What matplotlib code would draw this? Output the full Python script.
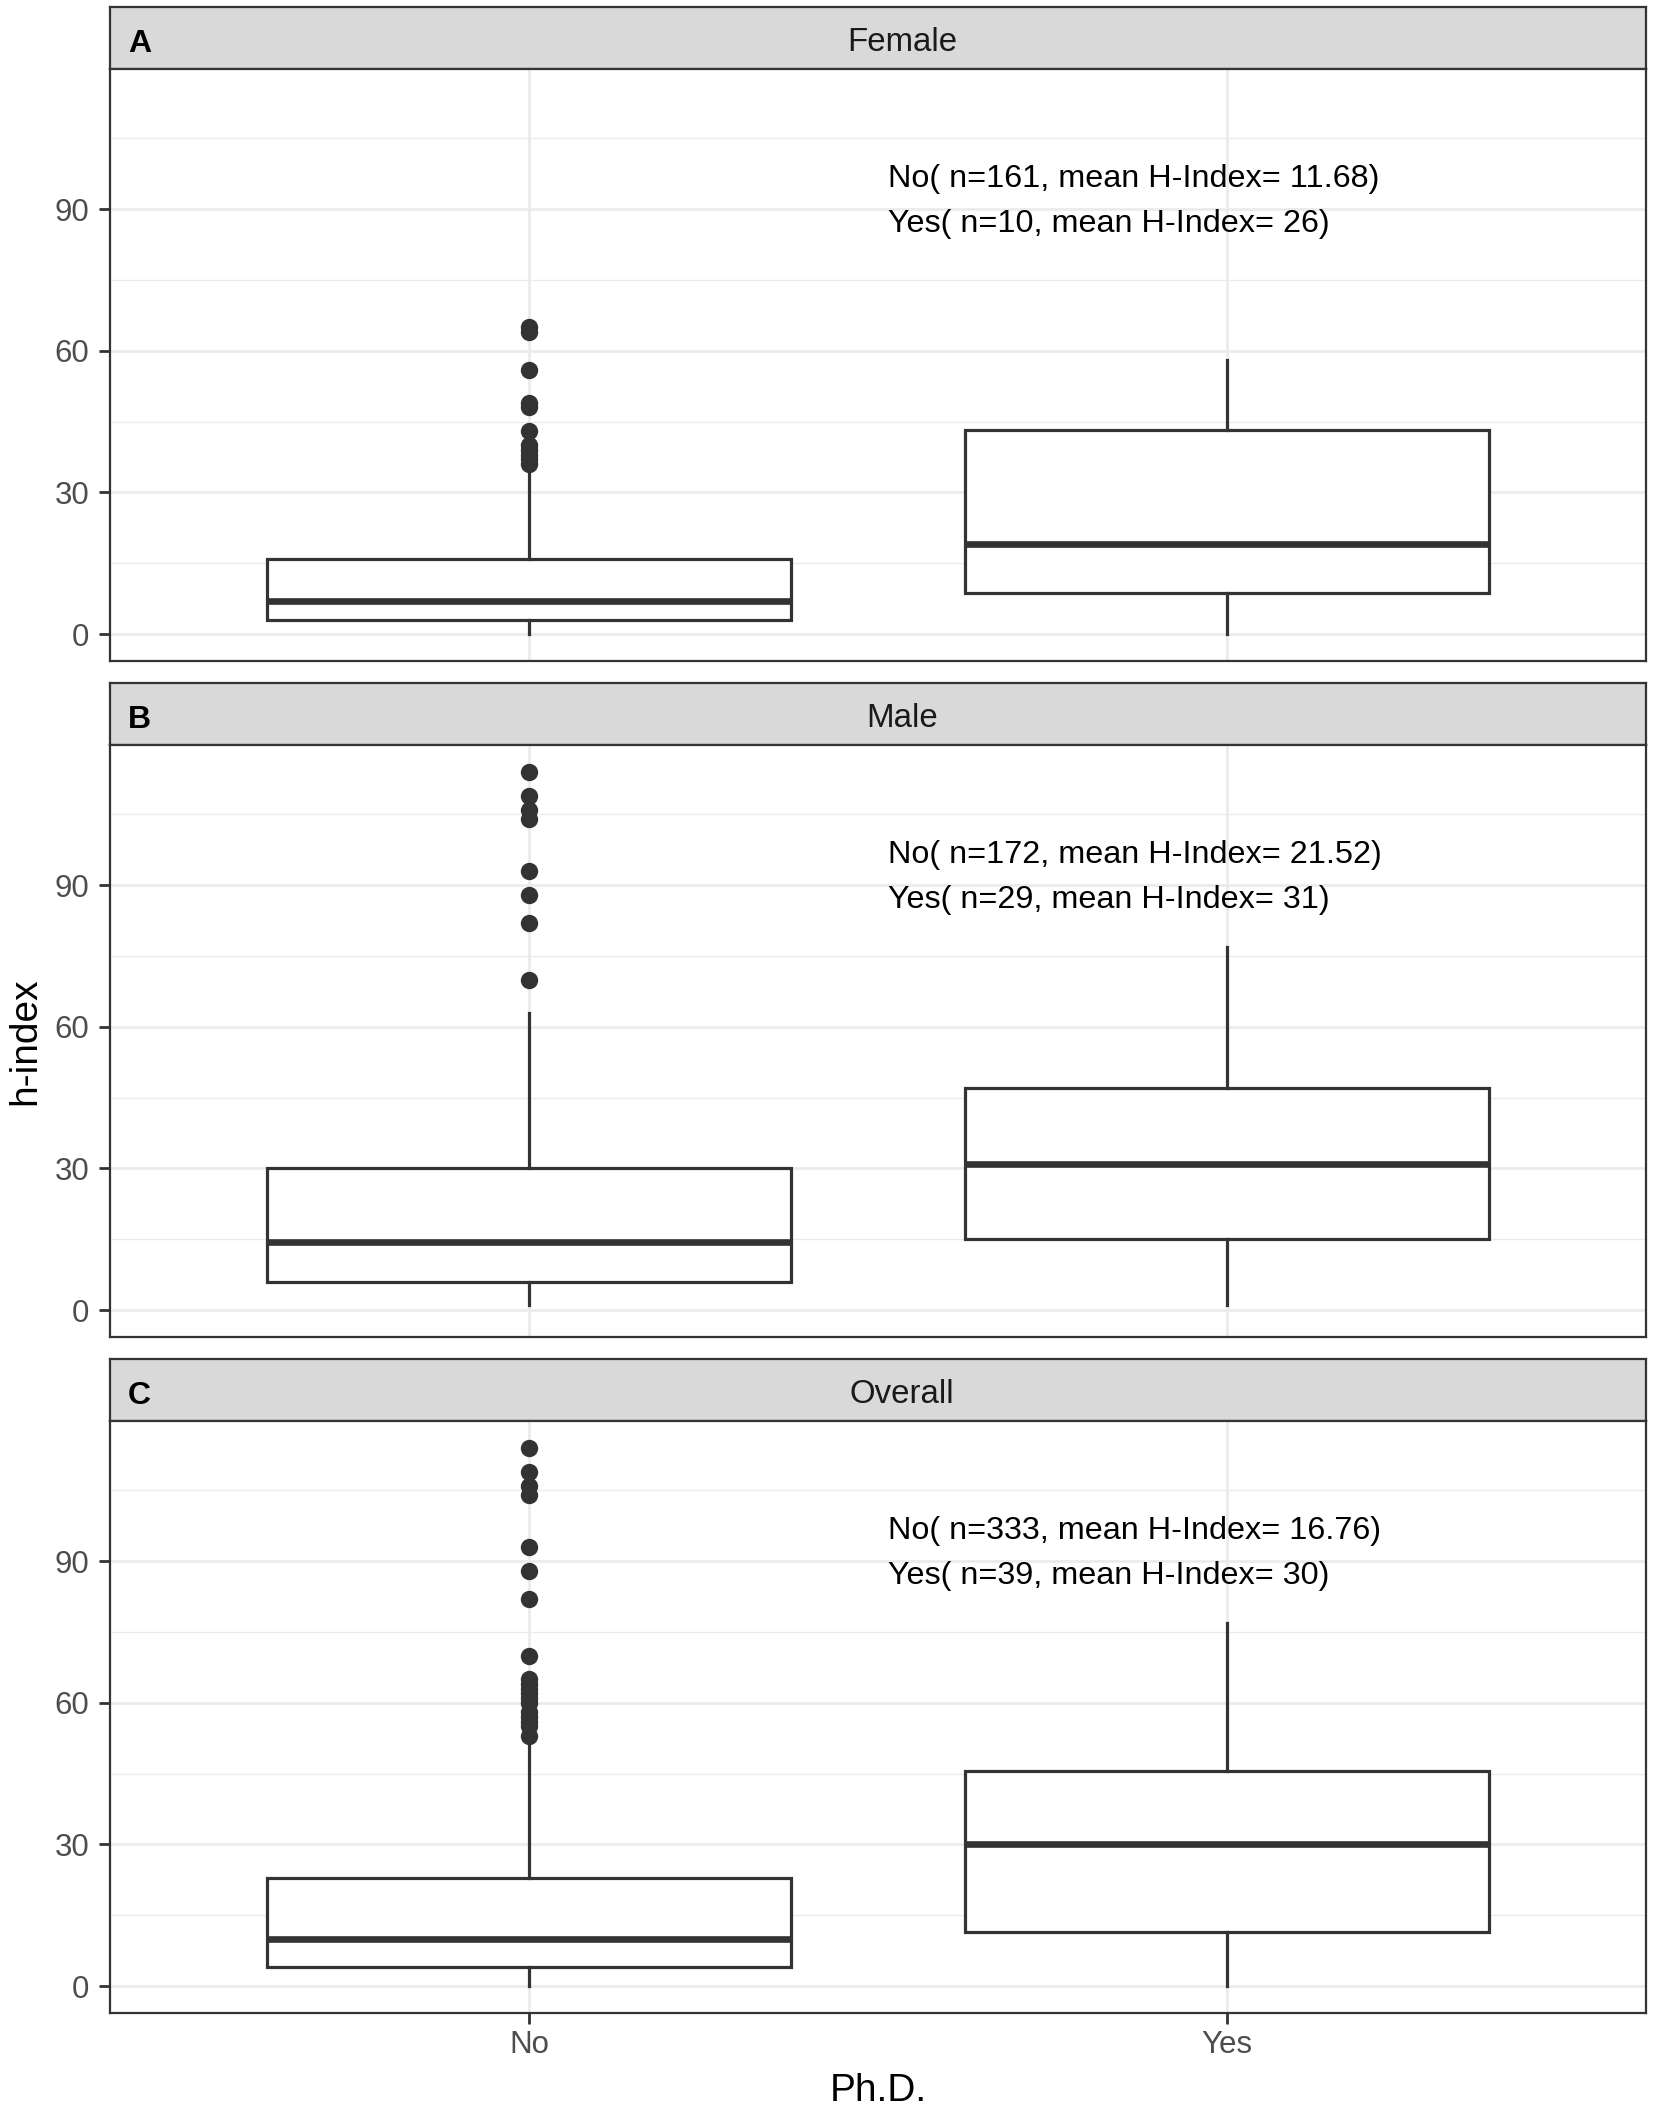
import matplotlib
matplotlib.use("Agg")
import matplotlib.pyplot as plt

plt.rcParams['font.family'] = ['Liberation Sans', 'DejaVu Sans']

# --- data ---
panels = ['Female', 'Male', 'Overall']
tags = ['A', 'B', 'C']
categories = ['No', 'Yes']

# box stats per panel: [No, Yes] -> (whislo, q1, med, q3, whishi)
female_stats = [(0, 3, 7, 16, 35), (0, 8.75, 19, 43.25, 58)]
male_stats = [(1, 6, 14.5, 30, 63), (1, 15, 31, 47, 77)]
overall_stats = [(0, 4, 10, 23, 51), (0, 11.5, 30, 45.5, 77)]

female_out = [[36, 37, 38, 39, 40, 43, 48, 49, 56, 64, 65], []]
male_out = [[70, 82, 88, 93, 104, 106, 109, 114], []]
overall_out = [[53, 55, 56, 57, 58, 60, 61, 62, 63, 64, 65, 70, 82, 88, 93, 104, 106, 109, 114], []]

female_text = ['No( n=161, mean H-Index= 11.68)', 'Yes( n=10, mean H-Index= 26)']
male_text = ['No( n=172, mean H-Index= 21.52)', 'Yes( n=29, mean H-Index= 31)']
overall_text = ['No( n=333, mean H-Index= 16.76)', 'Yes( n=39, mean H-Index= 30)']

all_stats = [female_stats, male_stats, overall_stats]
all_out = [female_out, male_out, overall_out]
all_text = [female_text, male_text, overall_text]

yticks = [0, 30, 60, 90]
yminor = [15, 45, 75, 105]

# --- layout in pixels ---
W, H = 1654, 2109
left, width = 110, 1536
strip_tops = [7, 683, 1359]
strip_h = 62
panel_h = 592

dark = '#333333'
fig = plt.figure(figsize=(W / 100, H / 100), dpi=100)

for i in range(3):
    st = strip_tops[i]
    pt = st + strip_h

    # strip
    sax = fig.add_axes([left / W, 1 - pt / H, width / W, strip_h / H])
    sax.set_facecolor('#D9D9D9')
    sax.set_xticks([])
    sax.set_yticks([])
    for sp in sax.spines.values():
        sp.set_color(dark)
        sp.set_linewidth(1.6)
    fig.text(902 / W, 1 - (st + 44) / H, panels[i],
             ha='center', va='baseline', fontsize=23.8, color='#1A1A1A')
    fig.text(128 / W, 1 - (st + 45) / H, tags[i], ha='left', va='baseline',
             fontsize=23, fontweight='bold', color='black')

    # panel
    ax = fig.add_axes([left / W, 1 - (pt + panel_h) / H, width / W, panel_h / H])
    stats = []
    for j in range(2):
        lo, q1, med, q3, hi = all_stats[i][j]
        stats.append(dict(whislo=lo, q1=q1, med=med, q3=q3, whishi=hi,
                          fliers=all_out[i][j], label=categories[j]))
    ax.bxp(stats, positions=[1, 2], widths=0.75, showcaps=False,
           patch_artist=True,
           boxprops=dict(facecolor='white', edgecolor=dark, linewidth=2.3),
           medianprops=dict(color=dark, linewidth=4.8, solid_capstyle='butt'),
           whiskerprops=dict(color=dark, linewidth=2.3),
           flierprops=dict(marker='o', markerfacecolor=dark, markeredgecolor=dark,
                           markersize=11.5, linestyle='none'))

    ax.set_xlim(0.4, 2.6)
    ax.set_ylim(-5.7, 119.7)
    ax.set_yticks(yticks)
    ax.set_yticks(yminor, minor=True)
    ax.set_xticks([1, 2])
    ax.set_axisbelow(True)
    ax.grid(True, which='major', color='#EBEBEB', linewidth=2.0)
    ax.grid(True, which='minor', axis='y', color='#EBEBEB', linewidth=1.0)
    for sp in ax.spines.values():
        sp.set_color(dark)
        sp.set_linewidth(1.6)
    ax.tick_params(axis='y', which='major', length=8, width=2, color=dark,
                   labelsize=22.5, labelcolor='#4D4D4D', pad=7)
    ax.tick_params(axis='y', which='minor', length=0)
    if i < 2:
        ax.tick_params(axis='x', length=0, labelbottom=False)
    else:
        ax.set_xticklabels(categories)
        ax.tick_params(axis='x', length=8, width=2, color=dark,
                       labelsize=22.5, labelcolor='#4D4D4D', pad=4)

    ax.text(1.515, 94.8, all_text[i][0], ha='left', va='baseline', fontsize=23.3, color='black')
    ax.text(1.515, 85.2, all_text[i][1], ha='left', va='baseline', fontsize=23.3, color='black')

fig.text(878 / W, 1 - 2101 / H, 'Ph.D.', ha='center', va='baseline', fontsize=28)
fig.text(35 / W, 1 - 1041 / H, 'h-index', rotation=90, rotation_mode='anchor',
         ha='center', va='baseline', fontsize=28)

fig.savefig('out.png', dpi=100, facecolor='white')
